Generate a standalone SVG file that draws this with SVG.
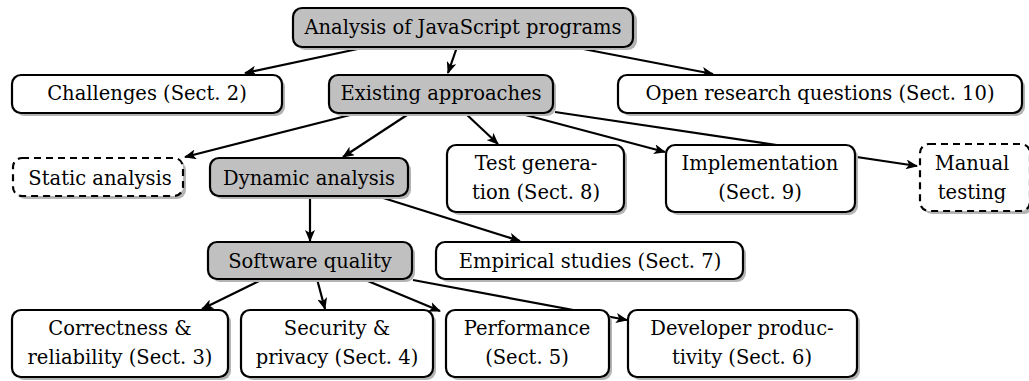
<svg xmlns="http://www.w3.org/2000/svg" width="1029" height="381" viewBox="0 0 1029 381">
<style>
.b{fill:#fff;stroke:#000;stroke-width:2.2}
.g{fill:#c0c0c0;stroke:#000;stroke-width:2.2}
.d{fill:#fff;stroke:#000;stroke-width:2.2;stroke-dasharray:7,5}
.s{fill:#b4b4b4;stroke:none}
text{font-family:"DejaVu Serif","Liberation Serif",serif;font-size:19.5px;fill:#000;text-anchor:middle}
.e{stroke:#000;stroke-width:2.2;fill:none;marker-end:url(#ah)}
</style>
<defs>
<marker id="ah" viewBox="0 0 12 10" refX="11" refY="5" markerWidth="12" markerHeight="10" markerUnits="userSpaceOnUse" orient="auto">
<path d="M0,0 L12,5 L0,10 L3,5 Z" fill="#000"/>
</marker>
</defs>
<g id="connectors">
<line class="e" x1="367" y1="47" x2="245" y2="73"/>
<line class="e" x1="457" y1="47" x2="448" y2="73"/>
<line class="e" x1="573" y1="47" x2="713" y2="74"/>
<line class="e" x1="358" y1="113" x2="185" y2="157"/>
<line class="e" x1="410" y1="113" x2="343" y2="157"/>
<line class="e" x1="465" y1="113" x2="498" y2="144"/>
<line class="e" x1="518" y1="113" x2="665" y2="152"/>
<line class="e" x1="555" y1="112" x2="917" y2="166"/>
<line class="e" x1="310" y1="196" x2="310" y2="241"/>
<line class="e" x1="377" y1="196" x2="520" y2="241"/>
<line class="e" x1="263" y1="279" x2="202" y2="309"/>
<line class="e" x1="317" y1="279" x2="325" y2="309"/>
<line class="e" x1="363" y1="279" x2="440" y2="311"/>
<line class="e" x1="413" y1="280" x2="627" y2="320"/>
</g>
<g id="n-analysis"><rect class="s" x="296" y="11" width="341" height="39" rx="9"/><rect class="g" x="293" y="8" width="340" height="39" rx="9"/><text x="463" y="34">Analysis of JavaScript programs</text></g>
<g id="n-challenges"><rect class="s" x="15" y="78" width="270" height="38" rx="9"/><rect class="b" x="12" y="75" width="270" height="38" rx="9"/><text x="147" y="100">Challenges (Sect. 2)</text></g>
<g id="n-existing"><rect class="s" x="332" y="78" width="224" height="38" rx="9"/><rect class="g" x="329" y="75" width="224" height="38" rx="9"/><text x="441" y="100">Existing approaches</text></g>
<g id="n-open"><rect class="s" x="621" y="78" width="404" height="38" rx="9"/><rect class="b" x="618" y="75" width="404" height="38" rx="9"/><text x="820" y="100">Open research questions (Sect. 10)</text></g>
<g id="n-static"><rect class="s" x="16" y="161" width="170" height="38" rx="9"/><rect class="d" x="13" y="158" width="170" height="38" rx="9"/><text x="100" y="185">Static analysis</text></g>
<g id="n-dynamic"><rect class="s" x="213" y="161" width="198" height="38" rx="9"/><rect class="g" x="210" y="158" width="198" height="38" rx="9"/><text x="309" y="185">Dynamic analysis</text></g>
<g id="n-testgen"><rect class="s" x="450" y="148" width="177" height="67" rx="9"/><rect class="b" x="447" y="145" width="177" height="67" rx="9"/><text x="536" y="170">Test genera-</text><text x="536" y="199">tion (Sect. 8)</text></g>
<g id="n-impl"><rect class="s" x="669" y="148" width="189" height="67" rx="9"/><rect class="b" x="666" y="145" width="189" height="67" rx="9"/><text x="760" y="170">Implementation</text><text x="760" y="199">(Sect. 9)</text></g>
<g id="n-manual"><rect class="s" x="923" y="147" width="110" height="67" rx="9"/><rect class="d" x="920" y="144" width="110" height="67" rx="9"/><text x="972" y="170">Manual</text><text x="972" y="199">testing</text></g>
<g id="n-quality"><rect class="s" x="211" y="245" width="204" height="37" rx="9"/><rect class="g" x="208" y="242" width="204" height="37" rx="9"/><text x="310" y="268">Software quality</text></g>
<g id="n-empirical"><rect class="s" x="439" y="245" width="307" height="37" rx="9"/><rect class="b" x="436" y="242" width="307" height="37" rx="9"/><text x="590" y="268">Empirical studies (Sect. 7)</text></g>
<g id="n-correct"><rect class="s" x="15" y="313" width="216" height="67" rx="9"/><rect class="b" x="12" y="310" width="216" height="67" rx="9"/><text x="120" y="335">Correctness &amp;</text><text x="120" y="364">reliability (Sect. 3)</text></g>
<g id="n-security"><rect class="s" x="244" y="313" width="192" height="67" rx="9"/><rect class="b" x="241" y="310" width="192" height="67" rx="9"/><text x="337" y="335">Security &amp;</text><text x="337" y="364">privacy (Sect. 4)</text></g>
<g id="n-perf"><rect class="s" x="449" y="313" width="163" height="67" rx="9"/><rect class="b" x="446" y="310" width="163" height="67" rx="9"/><text x="527" y="335">Performance</text><text x="527" y="364">(Sect. 5)</text></g>
<g id="n-dev"><rect class="s" x="631" y="313" width="229" height="67" rx="9"/><rect class="b" x="628" y="310" width="229" height="67" rx="9"/><text x="742" y="335">Developer produc-</text><text x="742" y="364">tivity (Sect. 6)</text></g>
</svg>
